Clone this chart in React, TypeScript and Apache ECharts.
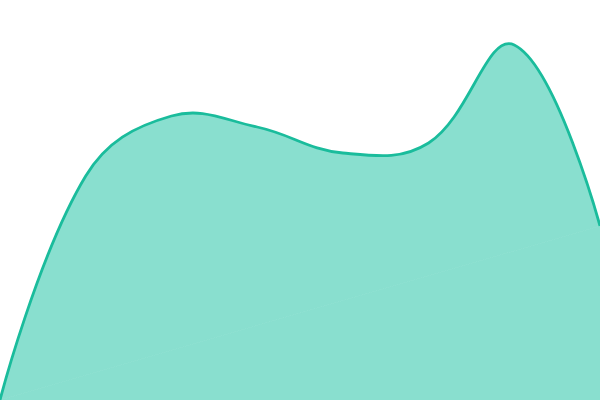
import React, { useRef, useEffect } from 'react';
import * as echarts from 'echarts';

// evenly spaced samples, plotted on a 0-100 scale
const categories = ['1', '2', '3', '4', '5', '6', '7', '8'];
const values = [0, 56, 71, 68.25, 61.75, 64.25, 88.75, 43.5];

const lineColor = '#1abc9c';
const areaColor = '#89dfcf';
const tension = 0.4;

const App: React.FC = () => {
  const chartRef = useRef<HTMLDivElement>(null);

  useEffect(() => {
    document.body.style.margin = '0';
    if (!chartRef.current) return;
    const chart = echarts.init(chartRef.current, undefined, { renderer: 'svg' });

    // one smooth curve through all points, drawn once from the first item
    const renderItem = (params: any, api: any) => {
      if (params.dataIndex !== 0) return null;
      const pts = values.map((v, i) => api.coord([i, v]));
      const last = pts[pts.length - 1];
      const bottom = api.coord([0, 0])[1];
      return {
        type: 'group',
        children: [
          {
            type: 'polyline',
            shape: { points: pts, smooth: tension },
            style: { fill: areaColor, stroke: 'none' },
          },
          {
            type: 'polygon',
            shape: { points: [pts[0], last, [last[0], bottom]] },
            style: { fill: areaColor, stroke: areaColor, lineWidth: 1 },
          },
          {
            type: 'polyline',
            shape: { points: pts, smooth: tension },
            style: { fill: 'none', stroke: lineColor, lineWidth: 2.8 },
          },
        ],
      };
    };

    chart.setOption({
      animation: false,
      grid: { left: 0, right: 0, top: 0, bottom: 0 },
      xAxis: {
        type: 'category',
        data: categories,
        boundaryGap: false,
        show: false,
      },
      yAxis: {
        type: 'value',
        min: 0,
        max: 100,
        show: false,
      },
      series: [
        {
          type: 'custom',
          data: values.map((v, i) => [i, v]),
          renderItem,
          clip: false,
        },
      ],
    });

    return () => {
      chart.dispose();
    };
  }, []);

  return <div ref={chartRef} style={{ width: 600, height: 400 }} />;
};

export default App;
